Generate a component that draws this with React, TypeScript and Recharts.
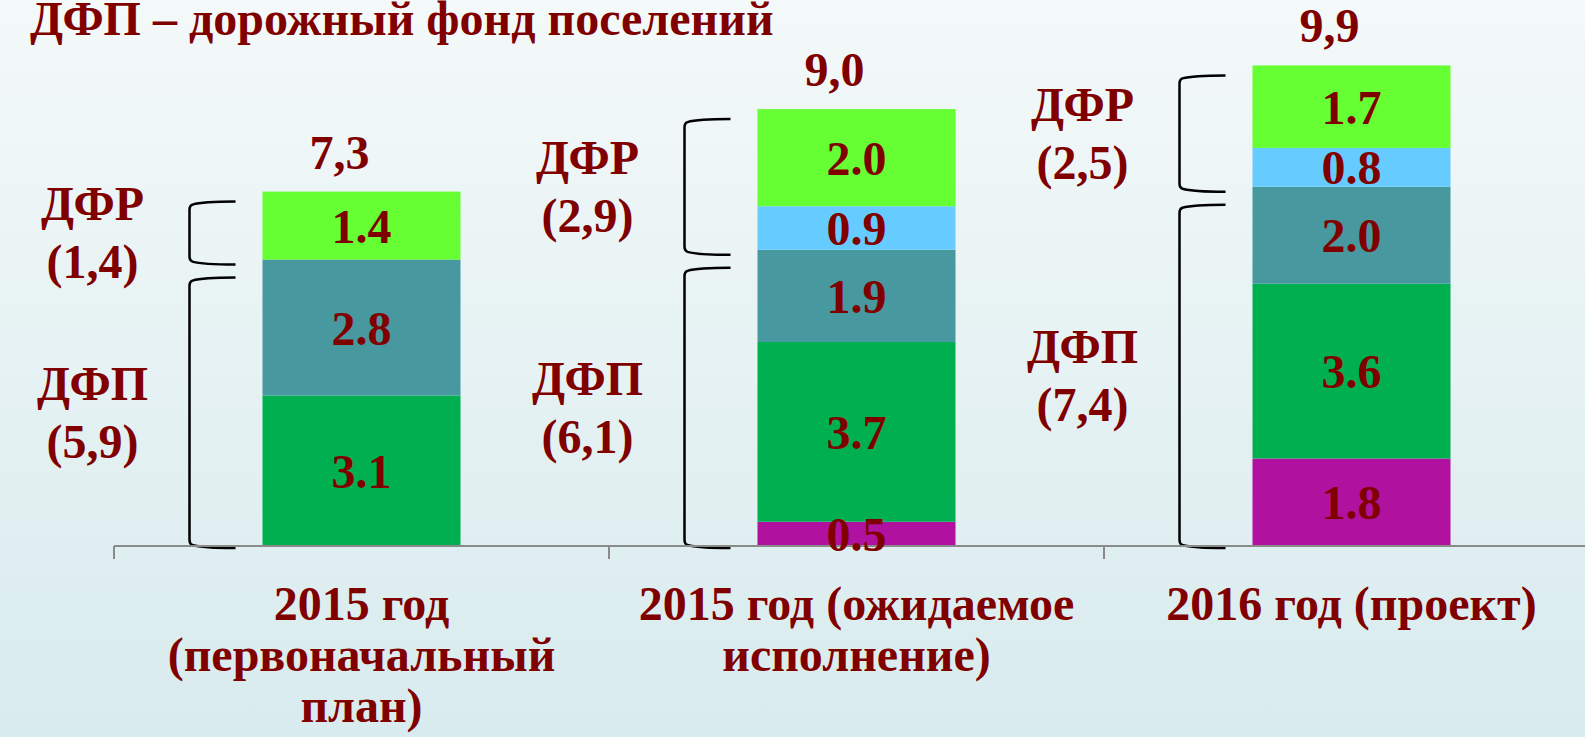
import React from 'react';
import { BarChart, Bar, XAxis, YAxis, LabelList } from 'recharts';

const categories = ['2015 год\n(первоначальный\nплан)', '2015 год (ожидаемое\nисполнение)', '2016 год (проект)'];
const magentaValues = [0, 0.5, 1.8];
const greenValues = [3.1, 3.7, 3.6];
const tealValues = [2.8, 1.9, 2.0];
const blueValues = [0, 0.9, 0.8];
const limeValues = [1.4, 2.0, 1.7];
const totalLabels = ['7,3', '9,0', '9,9'];
const dfpLabels = ['(5,9)', '(6,1)', '(7,4)'];
const dfrLabels = ['(1,4)', '(2,9)', '(2,5)'];
const titleText = 'ДФП – дорожный фонд поселений';

const data = categories.map((name, i) => ({
  name,
  magenta: magentaValues[i],
  green: greenValues[i],
  teal: tealValues[i],
  blue: blueValues[i],
  lime: limeValues[i],
  dfr: blueValues[i] + limeValues[i],
  total: magentaValues[i] + greenValues[i] + tealValues[i] + blueValues[i] + limeValues[i],
  totalLabel: totalLabels[i],
  dfpLabel: dfpLabels[i],
  dfrLabel: dfrLabels[i],
}));

const TEXT = '#800000';
const FONT = "'Liberation Serif', 'Times New Roman', serif";

const textStyle = { fontFamily: FONT, fontWeight: 700, fontSize: 48, fill: TEXT } as const;

function bracePath(x0: number, x1: number, yt: number, yb: number) {
  return `M ${x1} ${yt} C ${x1 - 22} ${yt} ${x0 + 8} ${yt + 1.5} ${x0 + 3} ${yt + 3} Q ${x0} ${yt + 4} ${x0} ${yt + 8} L ${x0} ${yb - 8} Q ${x0} ${yb - 4} ${x0 + 3} ${yb - 3} C ${x0 + 8} ${yb - 1.5} ${x1 - 22} ${yb} ${x1} ${yb}`;
}

function TwoLines({ cx, cy, a, b }: { cx: number; cy: number; a: string; b: string }) {
  return (
    <g>
      <text x={cx} y={cy - 29 + 16} textAnchor="middle" style={textStyle}>{a}</text>
      <text x={cx} y={cy + 29 + 16} textAnchor="middle" style={textStyle}>{b}</text>
    </g>
  );
}

const LimeShape = (props: any) => {
  const { x, y, width, height, fill, payload } = props;
  const ppu = height / payload.lime;
  const dfrBottom = y + payload.dfr * ppu;
  const base = y + payload.total * ppu;
  const x0 = x - 73;
  const x1 = x - 27;
  const lx = x - 170;
  const t1 = y + 10;
  const b1 = dfrBottom + 5;
  const t2 = dfrBottom + 18;
  const b2 = base + 2;
  return (
    <g>
      <rect x={x} y={y} width={width} height={height} fill={fill} />
      <path d={bracePath(x0, x1, t1, b1)} fill="none" stroke="#000" strokeWidth={2.5} />
      <path d={bracePath(x0, x1, t2, b2)} fill="none" stroke="#000" strokeWidth={2.5} />
      <text x={x + width / 2 - 22} y={y - 23} textAnchor="middle" style={textStyle}>{payload.totalLabel}</text>
      <TwoLines cx={lx} cy={(t1 + b1) / 2} a="ДФР" b={payload.dfrLabel} />
      <TwoLines cx={lx} cy={(t2 + b2) / 2} a="ДФП" b={payload.dfpLabel} />
    </g>
  );
};

const SegLabel = (props: any) => {
  const { x, y, width, height, value } = props;
  if (!value) return null;
  return (
    <text x={x + width / 2} y={y + height / 2 + 17} textAnchor="middle" style={textStyle}>
      {Number(value).toFixed(1)}
    </text>
  );
};

const AxisTick = (props: any) => {
  const { x, y, payload } = props;
  const half = payload && typeof payload.offset === 'number' ? payload.offset : 0;
  const lines = String(payload.value).split('\n');
  return (
    <g>
      <line x1={x - half} x2={x - half} y1={y} y2={y + 13} stroke="#8a8a8a" strokeWidth={2} />
      <text textAnchor="middle" style={textStyle}>
        {lines.map((l, i) => (
          <tspan key={i} x={x} y={y + 74 + i * 51}>{l}</tspan>
        ))}
      </text>
    </g>
  );
};

export default function App() {
  return (
    <div
      style={{
        position: 'absolute',
        left: 0,
        top: 0,
        width: 1585,
        height: 737,
        overflow: 'hidden',
        background: 'linear-gradient(to bottom, #F4F9F9 0%, #E6F2F3 50%, #D8EBEE 100%)',
      }}
    >
      <div
        style={{
          position: 'absolute',
          left: 30,
          top: -5,
          fontFamily: FONT,
          fontWeight: 700,
          fontSize: 48,
          lineHeight: '48px',
          color: TEXT,
          whiteSpace: 'nowrap',
        }}
      >
        {titleText}
      </div>
      <div style={{ position: 'absolute', left: 0, top: 0 }}>
        <BarChart
          width={1600}
          height={737}
          data={data}
          margin={{ top: 12, right: 1, bottom: 0, left: 114 }}
          barCategoryGap="30%"
        >
          <XAxis
            dataKey="name"
            interval={0}
            tickLine={false}
            tickSize={0}
            tickMargin={0}
            height={191}
            axisLine={{ stroke: '#8a8a8a', strokeWidth: 2 }}
            tick={<AxisTick />}
          />
          <YAxis hide domain={[0, 11]} />
          <Bar dataKey="magenta" stackId="a" fill="#B0119E" isAnimationActive={false}>
            <LabelList dataKey="magenta" content={<SegLabel />} />
          </Bar>
          <Bar dataKey="green" stackId="a" fill="#00B050" isAnimationActive={false}>
            <LabelList dataKey="green" content={<SegLabel />} />
          </Bar>
          <Bar dataKey="teal" stackId="a" fill="#4898A0" isAnimationActive={false}>
            <LabelList dataKey="teal" content={<SegLabel />} />
          </Bar>
          <Bar dataKey="blue" stackId="a" fill="#66CCFF" isAnimationActive={false}>
            <LabelList dataKey="blue" content={<SegLabel />} />
          </Bar>
          <Bar dataKey="lime" stackId="a" fill="#66FF33" isAnimationActive={false} shape={<LimeShape />}>
            <LabelList dataKey="lime" content={<SegLabel />} />
          </Bar>
        </BarChart>
      </div>
    </div>
  );
}
